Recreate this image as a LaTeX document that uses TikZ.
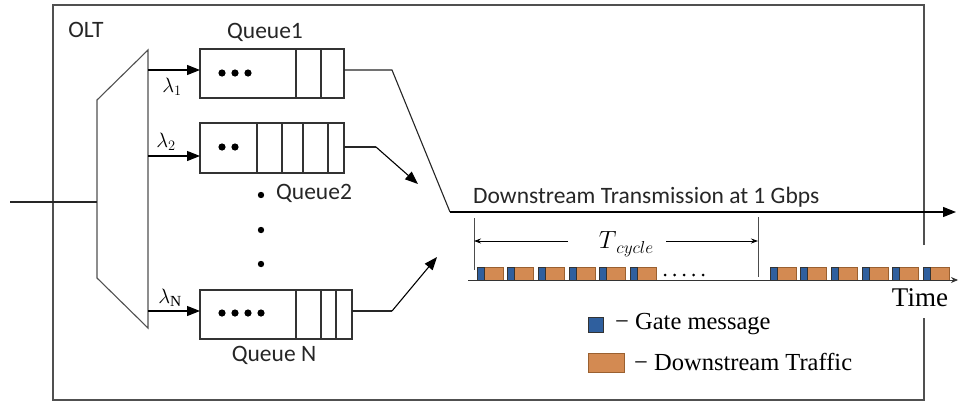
\documentclass[tikz,border=0pt]{standalone}
\usepackage{fontspec}
\setmainfont{Liberation Serif}
\newfontfamily\calib{Carlito}
\usetikzlibrary{arrows.meta}
\definecolor{linegray}{HTML}{505050}
\definecolor{gateblue}{HTML}{2F5F9E}
\definecolor{trafficorange}{HTML}{D38A52}
\definecolor{trafficedge}{HTML}{9A6030}
\tikzset{
  frame/.style={draw=linegray, line width=1.3pt},
  qbox/.style={draw=black!80, line width=1.1pt, rectangle, inner sep=0pt, outer sep=0pt, anchor=north west},
  qdiv/.style={draw=black!80, line width=1.1pt},
  feed/.style={draw=black, line width=1.1pt, -{Triangle[length=13pt,width=10pt]}},
  wire/.style={draw=black!85, line width=1.1pt},
  sanslbl/.style={font=\calib\fontsize{23.5}{27}\selectfont, text=black!85, inner sep=0pt},
  seriflbl/.style={font=\fontsize{24.5}{28}\selectfont, text=black, inner sep=0pt},
  lamlbl/.style={font=\fontsize{22}{26}\selectfont, inner sep=0pt},
  gatepkt/.style={fill=gateblue, draw=black!80, line width=0.6pt},
  datapkt/.style={fill=trafficorange, draw=trafficedge, line width=0.6pt},
  qdot/.style={fill=black, draw=none},
}
\begin{document}
\begin{tikzpicture}[x=1pt,y=-1pt]
\useasboundingbox (0,0) rectangle (960,402);
% outer OLT frame (right side interrupted)
\draw[frame] (924,245) -- (924,5) -- (53,5) -- (53,400) -- (924,400) -- (924,318);
\node[sanslbl] (olt) at (86,30) {OLT};
% demultiplexer
\draw[frame, line width=1.1pt] (148,50) -- (97,100) -- (97,278) -- (148,328) -- cycle;
\coordinate (inl) at (10,202);
\coordinate (inr) at (97,202);
\draw[wire] (inl) -- (inr);
% queues
\node[qbox, minimum width=144pt, minimum height=49pt] (q1) at (200,49) {};
\node[qbox, minimum width=144pt, minimum height=50pt] (q2) at (200,123) {};
\node[qbox, minimum width=152pt, minimum height=49pt] (qn) at (200,290) {};
\foreach \x in {296,321} \draw[qdiv] (\x,49) -- (\x,98);
\foreach \x in {257,282,303,328} \draw[qdiv] (\x,123) -- (\x,173);
\foreach \x in {296,321,336} \draw[qdiv] (\x,290) -- (\x,339);
% queue dots
\foreach \x in {222,235,248} \fill[qdot] (\x,73) circle (3.6pt);
\foreach \x in {222,235} \fill[qdot] (\x,147) circle (3.6pt);
\foreach \x in {222,235,248,261} \fill[qdot] (\x,313) circle (3.6pt);
\foreach \y in {195,230,264} \fill[qdot] (261,\y) circle (3.2pt);
% queue labels
\node[sanslbl] (lq1) at (265,32) {Queue1};
\node[sanslbl] (lq2) at (314,193) {Queue2};
\node[sanslbl] (lqn) at (274,355) {Queue N};
% feeds with wavelengths
\coordinate (f1) at (148,70);
\coordinate (f2) at (148,156);
\coordinate (fn) at (148,311);
\draw[feed] (f1) -- (q1.west |- f1);
\draw[feed] (f2) -- (q2.west |- f2);
\draw[feed] (fn) -- (qn.west |- fn);
\node[lamlbl] (l1) at (172,87) {$\lambda_1$};
\node[lamlbl] (l2) at (166,142) {$\lambda_2$};
\node[lamlbl] (ln) at (170,298) {$\lambda_{\mathrm{N}}$};
% outputs
\coordinate (b1) at (392,70);
\coordinate (m1) at (450,212);
\coordinate (e1) at (956,212);
\draw[wire] (q1.east |- b1) -- (b1) -- (m1);
\draw[feed] (m1) -- (e1);
\coordinate (b2) at (376,147);
\coordinate (e2) at (418,184);
\draw[wire] (q2.east |- b2) -- (b2);
\draw[feed] (b2) -- (e2);
\coordinate (bn) at (392,311);
\coordinate (en) at (437,257);
\draw[wire] (qn.east |- bn) -- (bn);
\draw[feed] (bn) -- (en);
\node[sanslbl, anchor=west] (ds) at (473,197) {Downstream Transmission at 1 Gbps};
% cycle markers
\coordinate (c1t) at (474,218);
\coordinate (c1b) at (474,270);
\coordinate (c2t) at (758,217);
\coordinate (c2b) at (758,277);
\draw[draw=black!70, line width=0.8pt] (c1t) -- (c1b);
\draw[draw=black!70, line width=0.8pt] (c2t) -- (c2b);
\node[inner sep=0pt] (tc) at (626,244) {\fontsize{23}{26}\selectfont$T$\raisebox{-5pt}{\fontsize{18}{20}\selectfont$cycle$}};
\draw[draw=black, line width=0.8pt, -{Stealth[length=7pt,width=5pt]}] (568,241) -- (c1t |- 0,241);
\draw[draw=black, line width=0.8pt, -{Stealth[length=7pt,width=5pt]}] (666,241) -- (c2t |- 0,241);
% packets
\foreach \i in {0,...,5} {
  \pgfmathsetmacro{\xa}{477+30.6*\i}
  \draw[datapkt] (\xa+7,267) rectangle (\xa+26,280);
  \draw[gatepkt] (\xa,267) rectangle (\xa+7,280);
  \pgfmathsetmacro{\xb}{770+30.6*\i}
  \draw[datapkt] (\xb+7,267) rectangle (\xb+26,280);
  \draw[gatepkt] (\xb,267) rectangle (\xb+7,280);
}
\foreach \x in {665,674.5,684,693.5,703} \fill[qdot] (\x,275) circle (1.5pt);
\coordinate (ts) at (468,280);
\coordinate (te) at (958,280);
\draw[draw=black!80, line width=0.9pt, -{Stealth[length=7pt,width=6pt]}] (ts) -- (te);
\node[seriflbl, font=\fontsize{27}{30}\selectfont] (time) at (920,298) {Time};
% legend
\draw[gatepkt, line width=0.9pt] (588,317) rectangle (603,332);
\node[seriflbl, anchor=west] (lg) at (615,324) {− Gate message};
\draw[datapkt, line width=0.9pt] (588,353) rectangle (624,372);
\node[seriflbl, anchor=west] (ld) at (634,362) {− Downstream Traffic};
\end{tikzpicture}
\end{document}
